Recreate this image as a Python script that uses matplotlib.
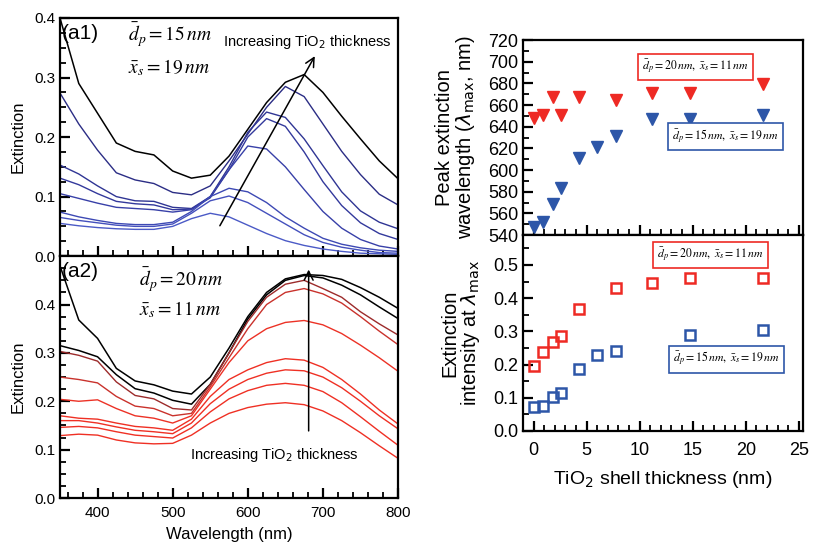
"""Extinction spectra of Au@TiO2 films and peak position / intensity vs shell thickness."""

import matplotlib
matplotlib.use("Agg")
import matplotlib.pyplot as plt
from matplotlib.ticker import MultipleLocator

plt.rcParams["font.family"] = ["Liberation Sans", "DejaVu Sans"]

# ---- spectra (a1: dp = 15 nm, a2: dp = 20 nm) ----
wavelength = [350, 375, 400, 425, 450, 475, 500, 525, 550, 575,
              600, 625, 650, 675, 700, 725, 750, 775, 800]

a1_black = [0.400, 0.290, 0.240, 0.190, 0.176, 0.170, 0.143, 0.131, 0.136, 0.168,
            0.213, 0.258, 0.292, 0.305, 0.275, 0.235, 0.197, 0.160, 0.130]
a1_blue = [
    [0.274, 0.222, 0.178, 0.140, 0.128, 0.122, 0.107, 0.103, 0.118, 0.160,
     0.205, 0.250, 0.285, 0.268, 0.222, 0.176, 0.137, 0.104, 0.086],
    [0.153, 0.138, 0.118, 0.100, 0.093, 0.092, 0.082, 0.080, 0.100, 0.150,
     0.208, 0.242, 0.233, 0.197, 0.152, 0.108, 0.076, 0.057, 0.046],
    [0.131, 0.120, 0.105, 0.092, 0.088, 0.086, 0.078, 0.079, 0.098, 0.145,
     0.200, 0.231, 0.218, 0.175, 0.125, 0.085, 0.056, 0.038, 0.028],
    [0.105, 0.097, 0.089, 0.082, 0.080, 0.078, 0.074, 0.078, 0.100, 0.145,
     0.185, 0.180, 0.150, 0.112, 0.075, 0.047, 0.028, 0.017, 0.012],
    [0.074, 0.066, 0.060, 0.055, 0.053, 0.053, 0.057, 0.075, 0.100, 0.114,
     0.108, 0.090, 0.066, 0.047, 0.030, 0.020, 0.014, 0.010, 0.008],
    [0.065, 0.060, 0.056, 0.052, 0.050, 0.050, 0.054, 0.072, 0.093, 0.101,
     0.090, 0.072, 0.054, 0.036, 0.023, 0.015, 0.010, 0.006, 0.005],
    [0.055, 0.051, 0.048, 0.046, 0.045, 0.045, 0.050, 0.063, 0.072, 0.066,
     0.052, 0.038, 0.026, 0.018, 0.012, 0.008, 0.005, 0.004, 0.003],
]
a1_blue_colors = ["#2b2d85", "#2f3594", "#33399c", "#3840a8", "#3d49b4", "#4450bd", "#4b5ac6"]

a2_black = [
    [0.480, 0.368, 0.330, 0.268, 0.242, 0.234, 0.221, 0.215, 0.250, 0.310,
     0.375, 0.425, 0.453, 0.462, 0.460, 0.452, 0.435, 0.415, 0.392],
    [0.315, 0.305, 0.292, 0.255, 0.226, 0.217, 0.202, 0.194, 0.235, 0.300,
     0.370, 0.420, 0.450, 0.460, 0.455, 0.440, 0.420, 0.395, 0.371],
]
a2_red = [
    [0.303, 0.295, 0.283, 0.240, 0.212, 0.205, 0.185, 0.182, 0.235, 0.300,
     0.365, 0.415, 0.442, 0.450, 0.433, 0.415, 0.385, 0.360, 0.337],
    [0.250, 0.245, 0.238, 0.210, 0.190, 0.185, 0.170, 0.175, 0.230, 0.290,
     0.350, 0.400, 0.425, 0.433, 0.422, 0.403, 0.375, 0.345, 0.317],
    [0.204, 0.200, 0.203, 0.185, 0.170, 0.165, 0.155, 0.170, 0.225, 0.280,
     0.325, 0.350, 0.363, 0.367, 0.358, 0.340, 0.316, 0.290, 0.262],
    [0.170, 0.165, 0.163, 0.155, 0.148, 0.145, 0.140, 0.163, 0.210, 0.245,
     0.265, 0.280, 0.288, 0.285, 0.270, 0.245, 0.215, 0.182, 0.153],
    [0.160, 0.160, 0.155, 0.147, 0.140, 0.137, 0.133, 0.155, 0.195, 0.225,
     0.245, 0.258, 0.265, 0.263, 0.250, 0.228, 0.200, 0.170, 0.143],
    [0.146, 0.148, 0.145, 0.137, 0.130, 0.127, 0.124, 0.145, 0.178, 0.205,
     0.222, 0.233, 0.237, 0.233, 0.220, 0.197, 0.168, 0.138, 0.109],
    [0.129, 0.132, 0.130, 0.120, 0.114, 0.112, 0.113, 0.130, 0.155, 0.175,
     0.187, 0.194, 0.197, 0.193, 0.180, 0.160, 0.135, 0.108, 0.082],
]
a2_red_colors = ["#9c2b2b", "#c9322c", "#ec3226", "#ef3024", "#ef3024", "#ef3024", "#ef3024"]

# ---- peak analysis vs TiO2 shell thickness ----
shell_red = [0.0, 0.9, 1.8, 2.6, 4.3, 7.8, 11.2, 14.7, 21.6]
peak_red = [648, 651, 667, 651, 667, 665, 671, 671, 679]
shell_blue_peak = [0.0, 0.9, 1.8, 2.6, 4.3, 6.0, 7.8, 11.2, 14.7, 21.6]
peak_blue = [547, 552, 569, 583, 611, 621, 631, 647, 647, 651]

int_red = [0.196, 0.237, 0.267, 0.285, 0.366, 0.431, 0.446, 0.460, 0.460]
shell_blue_int = [0.0, 0.9, 1.8, 2.6, 4.3, 6.0, 7.8, 14.7, 21.6]
int_blue = [0.073, 0.076, 0.103, 0.115, 0.188, 0.230, 0.242, 0.289, 0.305]

RED = "#ee2a24"
BLUE = "#2d56a8"

fig = plt.figure(figsize=(8.14, 5.45), dpi=100)
ax1 = fig.add_axes([0.0737, 0.530, 0.4153, 0.437])
ax2 = fig.add_axes([0.0737, 0.0862, 0.4153, 0.4438])
ax3 = fig.add_axes([0.6425, 0.5688, 0.344, 0.3578])
ax4 = fig.add_axes([0.6425, 0.2092, 0.344, 0.3596])


def style(ax, label_size):
    for s in ax.spines.values():
        s.set_linewidth(1.6)
    ax.tick_params(which="both", direction="in", top=False, right=False, labelsize=label_size)
    ax.tick_params(which="major", length=7, width=1.6)
    ax.tick_params(which="minor", length=4, width=1.3)


# spectra a1
ax1.plot(wavelength, a1_black, color="black", lw=1.1)
for vals, c in zip(a1_blue, a1_blue_colors):
    ax1.plot(wavelength, vals, color=c, lw=1.0)
ax1.set_xlim(350, 800)
ax1.set_ylim(0, 0.4)
ax1.xaxis.set_major_locator(MultipleLocator(100))
ax1.xaxis.set_minor_locator(MultipleLocator(20))
ax1.yaxis.set_major_locator(MultipleLocator(0.1))
ax1.yaxis.set_minor_locator(MultipleLocator(0.025))
ax1.tick_params(labelbottom=False)
style(ax1, 11)
ax1.set_ylabel("Extinction", fontsize=12, labelpad=6)
ax1.text(0.005, 0.975, "(a1)", transform=ax1.transAxes, fontsize=15, va="top", ha="left")
ax1.text(440, 0.372, r"$\bar{d}_p = 15\,nm$", fontsize=14, math_fontfamily="stix", va="center")
ax1.text(440, 0.316, r"$\bar{x}_s = 19\,nm$", fontsize=14, math_fontfamily="stix", va="center")
ax1.text(679, 0.360, r"Increasing TiO$_2$ thickness", fontsize=10.5, ha="center", va="center")
ax1.annotate("", xy=(691, 0.340), xytext=(561, 0.047),
             arrowprops=dict(arrowstyle="->", color="black", lw=1.1, mutation_scale=16))

# spectra a2
for vals in a2_black:
    ax2.plot(wavelength, vals, color="black", lw=1.1)
for vals, c in zip(a2_red, a2_red_colors):
    ax2.plot(wavelength, vals, color=c, lw=1.0)
ax2.set_xlim(350, 800)
ax2.set_ylim(0, 0.5)
ax2.set_yticks([0.0, 0.1, 0.2, 0.3, 0.4])
ax2.xaxis.set_major_locator(MultipleLocator(100))
ax2.xaxis.set_minor_locator(MultipleLocator(20))
ax2.yaxis.set_minor_locator(MultipleLocator(0.025))
style(ax2, 11)
ax2.tick_params(axis="x", pad=6)
ax2.set_ylabel("Extinction", fontsize=12, labelpad=6)
ax2.set_xlabel("Wavelength (nm)", fontsize=12, labelpad=5)
ax2.text(0.005, 0.975, "(a2)", transform=ax2.transAxes, fontsize=15, va="top", ha="left")
ax2.text(455, 0.452, r"$\bar{d}_p = 20\,nm$", fontsize=14, math_fontfamily="stix", va="center")
ax2.text(455, 0.389, r"$\bar{x}_s = 11\,nm$", fontsize=14, math_fontfamily="stix", va="center")
ax2.text(635, 0.088, r"Increasing TiO$_2$ thickness", fontsize=10.5, ha="center", va="center")
ax2.annotate("", xy=(681, 0.478), xytext=(681, 0.133),
             arrowprops=dict(arrowstyle="->", color="black", lw=1.1, mutation_scale=16))

# peak wavelength
ax3.plot(shell_red, peak_red, "v", color=RED, ms=8, ls="none")
ax3.plot(shell_blue_peak, peak_blue, "v", color=BLUE, ms=8, ls="none")
ax3.set_xlim(-1, 25.4)
ax3.set_ylim(540, 720)
ax3.xaxis.set_major_locator(MultipleLocator(5))
ax3.xaxis.set_minor_locator(MultipleLocator(1))
ax3.yaxis.set_major_locator(MultipleLocator(20))
ax3.yaxis.set_minor_locator(MultipleLocator(10))
ax3.tick_params(labelbottom=False)
style(ax3, 13)
ax3.set_ylabel("Peak extinction\n" + r"wavelength ($\lambda_{\mathrm{max}}$, nm)",
               fontsize=14.5, math_fontfamily="dejavusans", linespacing=1.0, labelpad=8)

box_kw = dict(boxstyle="square,pad=0.35", fc="white", lw=1.2)
ax3.text(15.3, 695, r"$\bar{d}_p = 20\,nm,\ \bar{x}_s = 11\,nm$", fontsize=8.5,
         math_fontfamily="stix", ha="center", va="center", bbox=dict(ec=RED, **box_kw))
ax3.text(18.1, 631, r"$\bar{d}_p = 15\,nm,\ \bar{x}_s = 19\,nm$", fontsize=8.5,
         math_fontfamily="stix", ha="center", va="center", bbox=dict(ec=BLUE, **box_kw))

# intensity at peak
ax4.plot(shell_red, int_red, "s", mfc="none", mec=RED, mew=1.8, ms=7.5, ls="none")
ax4.plot(shell_blue_int, int_blue, "s", mfc="none", mec=BLUE, mew=1.8, ms=7.5, ls="none")
ax4.set_xlim(-1, 25.4)
ax4.set_ylim(0, 0.59)
ax4.set_yticks([0.0, 0.1, 0.2, 0.3, 0.4, 0.5])
ax4.xaxis.set_major_locator(MultipleLocator(5))
ax4.xaxis.set_minor_locator(MultipleLocator(1))
ax4.yaxis.set_minor_locator(MultipleLocator(0.05))
style(ax4, 13)
ax4.tick_params(axis="x", pad=8)
ax4.set_ylabel("Extinction\n" + r"intensity at $\lambda_{\mathrm{max}}$",
               fontsize=14.5, math_fontfamily="dejavusans", linespacing=1.0, labelpad=8)
ax4.set_xlabel(r"TiO$_2$ shell thickness (nm)", fontsize=14, math_fontfamily="dejavusans",
               labelpad=7)
ax4.text(16.7, 0.530, r"$\bar{d}_p = 20\,nm,\ \bar{x}_s = 11\,nm$", fontsize=8.5,
         math_fontfamily="stix", ha="center", va="center", bbox=dict(ec=RED, **box_kw))
ax4.text(18.2, 0.216, r"$\bar{d}_p = 15\,nm,\ \bar{x}_s = 19\,nm$", fontsize=8.5,
         math_fontfamily="stix", ha="center", va="center", bbox=dict(ec=BLUE, **box_kw))

fig.savefig("out.png", dpi=100)
plt.close(fig)
